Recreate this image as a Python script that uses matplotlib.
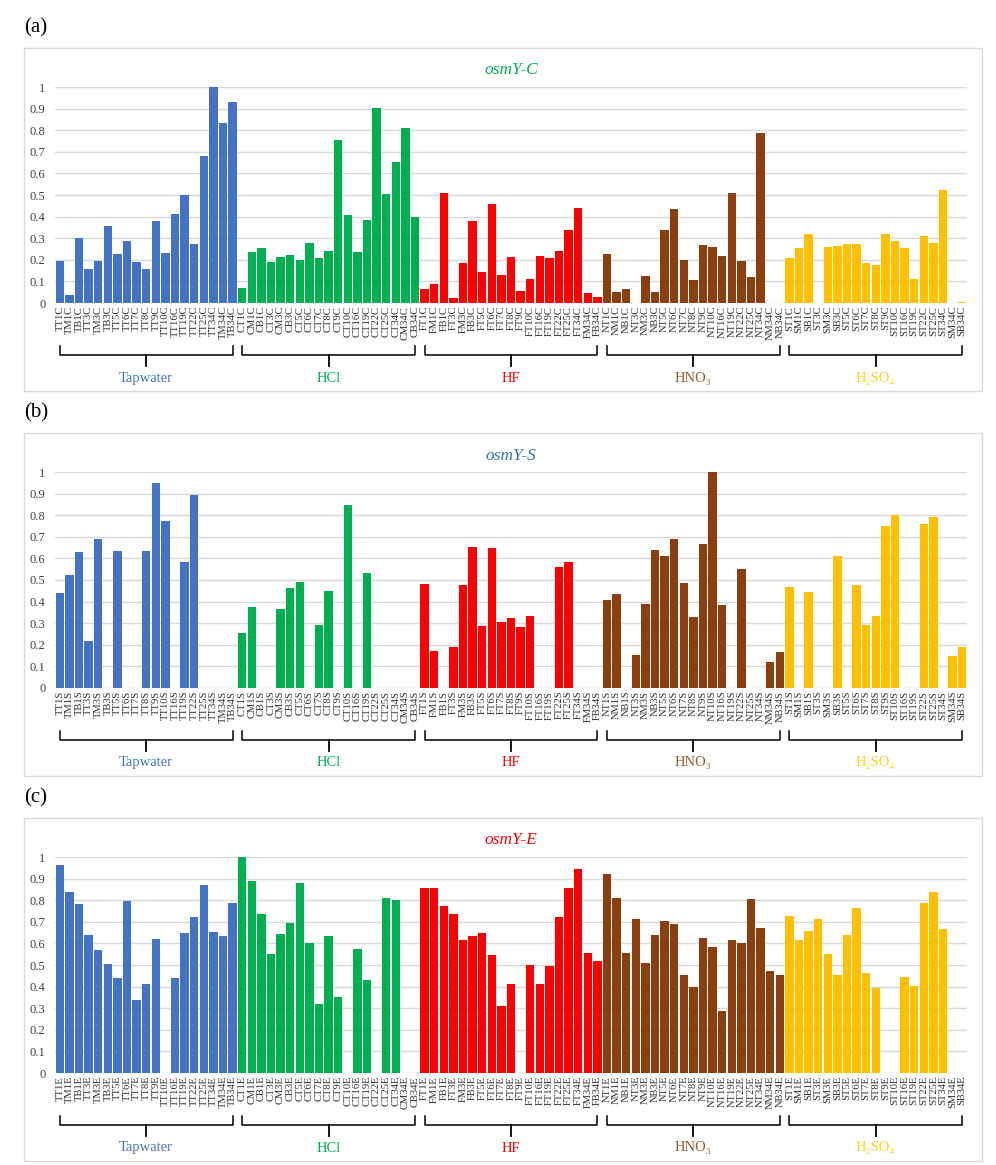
import matplotlib
matplotlib.use("Agg")
import matplotlib.pyplot as plt
from matplotlib.patches import Rectangle

W, H = 996, 1165

groups = ["Tapwater", "HCl", "HF", "HNO₃", "H₂SO₄"]
prefixes = ["T", "C", "F", "N", "S"]
sites = ["T1", "M1", "B1", "T3", "M3", "B3", "T5", "T6", "T7", "T8", "T9",
         "T10", "T16", "T19", "T22", "T25", "T34", "M34", "B34"]
bar_colors = ["#4472C4", "#00B050", "#FF0000", "#8B3F0E", "#FFC000"]
label_colors = ["#4472C4", "#00B050", "#FF0000", "#9C5A2C", "#FFD21F"]

# osmY-C
tap_c = [0.193, 0.035, 0.30, 0.157, 0.193, 0.358, 0.227, 0.289, 0.19, 0.157,
         0.38, 0.231, 0.412, 0.50, 0.273, 0.68, 1.0, 0.833, 0.93]
hcl_c = [0.07, 0.236, 0.255, 0.188, 0.213, 0.224, 0.20, 0.278, 0.21, 0.241,
         0.755, 0.409, 0.236, 0.384, 0.903, 0.506, 0.654, 0.812, 0.40]
hf_c = [0.063, 0.088, 0.51, 0.022, 0.184, 0.381, 0.144, 0.458, 0.131, 0.215,
        0.054, 0.111, 0.218, 0.208, 0.241, 0.338, 0.44, 0.048, 0.029]
hno3_c = [0.227, 0.052, 0.066, 0.0, 0.127, 0.052, 0.338, 0.437, 0.20, 0.105,
          0.27, 0.261, 0.218, 0.509, 0.193, 0.12, 0.787, 0.0, 0.0]
h2so4_c = [0.208, 0.255, 0.32, 0.0, 0.261, 0.265, 0.273, 0.273, 0.185, 0.177,
           0.321, 0.289, 0.256, 0.113, 0.312, 0.276, 0.525, 0.0, 0.003]

# osmY-S
tap_s = [0.438, 0.525, 0.631, 0.219, 0.69, 0.0, 0.634, 0.0, 0.0, 0.634,
         0.949, 0.773, 0.0, 0.582, 0.895, 0.0, 0.0, 0.0, 0.0]
hcl_s = [0.256, 0.377, 0.0, 0.0, 0.367, 0.461, 0.492, 0.0, 0.293, 0.449,
         0.0, 0.849, 0.0, 0.534, 0.0, 0.0, 0.0, 0.0, 0.0]
hf_s = [0.483, 0.173, 0.0, 0.191, 0.477, 0.654, 0.287, 0.65, 0.307, 0.326,
        0.281, 0.335, 0.0, 0.0, 0.562, 0.585, 0.0, 0.0, 0.0]
hno3_s = [0.407, 0.435, 0.0, 0.151, 0.39, 0.639, 0.613, 0.691, 0.486, 0.33,
          0.668, 1.0, 0.384, 0.0, 0.551, 0.0, 0.0, 0.122, 0.167]
h2so4_s = [0.469, 0.0, 0.444, 0.0, 0.0, 0.61, 0.0, 0.477, 0.292, 0.335,
           0.75, 0.799, 0.0, 0.0, 0.761, 0.793, 0.0, 0.15, 0.19]

# osmY-E
tap_e = [0.964, 0.838, 0.784, 0.639, 0.568, 0.506, 0.438, 0.796, 0.338, 0.414,
         0.62, 0.0, 0.438, 0.65, 0.724, 0.87, 0.653, 0.634, 0.787]
hcl_e = [1.0, 0.89, 0.738, 0.552, 0.645, 0.696, 0.881, 0.603, 0.319, 0.636,
         0.352, 0.0, 0.574, 0.431, 0.0, 0.812, 0.802, 0.0, 0.0]
hf_e = [0.855, 0.856, 0.775, 0.738, 0.616, 0.634, 0.648, 0.548, 0.312, 0.41,
        0.0, 0.502, 0.414, 0.497, 0.722, 0.856, 0.944, 0.556, 0.52]
hno3_e = [0.923, 0.812, 0.556, 0.713, 0.509, 0.64, 0.704, 0.69, 0.452, 0.398,
          0.627, 0.585, 0.289, 0.617, 0.603, 0.807, 0.673, 0.474, 0.455]
h2so4_e = [0.728, 0.616, 0.656, 0.715, 0.552, 0.454, 0.639, 0.765, 0.465, 0.392,
           0.0, 0.0, 0.444, 0.401, 0.789, 0.838, 0.665, 0.0, 0.0]

panels = [
    ("(a)", "osmY-C", "C", "#00B050", [tap_c, hcl_c, hf_c, hno3_c, h2so4_c]),
    ("(b)", "osmY-S", "S", "#2E75B6", [tap_s, hcl_s, hf_s, hno3_s, h2so4_s]),
    ("(c)", "osmY-E", "E", "#FF0000", [tap_e, hcl_e, hf_e, hno3_e, h2so4_e]),
]

serif = ["Liberation Serif", "DejaVu Serif"]

fig = plt.figure(figsize=(W / 100, H / 100), dpi=100)


def fx(px):
    return px / W


def fy(py):
    return 1 - py / H


n = len(sites)
for k, (letter, title, suffix, tcolor, series) in enumerate(panels):
    dy = 385 * k
    # outer frame of the chart
    fig.patches.append(Rectangle((fx(24), fy(391 + dy)), fx(982) - fx(24),
                                 fy(48 + dy) - fy(391 + dy), transform=fig.transFigure,
                                 fill=False, edgecolor="#D9D9D9", linewidth=1.0))
    fig.text(fx(24), fy(28 + dy), letter, fontsize=15, family=serif,
             ha="left", va="center")

    ax = fig.add_axes([fx(55), fy(303 + dy), fx(967) - fx(55), fy(87 + dy) - fy(303 + dy)])
    xs, vals, cols, labels = [], [], [], []
    for g in range(len(groups)):
        for i in range(n):
            xs.append(g * n + i)
            vals.append(series[g][i])
            cols.append(bar_colors[g])
            labels.append(prefixes[g] + sites[i] + suffix)
    ax.bar(xs, vals, width=0.88, color=cols, zorder=3)
    ax.set_xlim(-0.5, len(xs) - 0.5)
    ax.set_ylim(0, 1)
    ax.set_yticks([i / 10 for i in range(11)])
    ax.set_yticklabels(["0"] + [f"{i / 10:.1f}" for i in range(1, 10)] + ["1"],
                       fontsize=9, family=serif, color="#404040")
    ax.set_xticks(xs)
    ax.set_xticklabels(labels, rotation=90, fontsize=7.6, family=serif, color="#303030")
    ax.tick_params(length=0, axis="y", pad=7)
    ax.tick_params(length=0, axis="x", pad=2)
    ax.grid(axis="y", color="#D9D9D9", linewidth=1, zorder=0)
    for s in ax.spines.values():
        s.set_visible(False)
    ax.set_title(title, fontsize=12.5, family=serif, style="italic", color=tcolor, pad=9)

    # group brackets and labels
    tr = ax.get_xaxis_transform()
    ah = 216.0
    y_end = -(346 - 303) / ah
    y_bar = -(355 - 303) / ah
    y_mid = -(366 - 303) / ah
    y_lab = -(378 - 303) / ah
    for g, name in enumerate(groups):
        x0, x1 = g * n, g * n + n - 1
        xm = (x0 + x1) / 2
        ax.plot([x0, x0, x1, x1], [y_end, y_bar, y_bar, y_end], color="black",
                linewidth=1.1, transform=tr, clip_on=False)
        ax.plot([xm, xm], [y_bar, y_mid], color="black", linewidth=1.3,
                transform=tr, clip_on=False)
        ax.text(xm, y_lab, name, color=label_colors[g], fontsize=10.5, family=serif,
                ha="center", va="center", transform=tr)

fig.savefig("out.png", dpi=100)
